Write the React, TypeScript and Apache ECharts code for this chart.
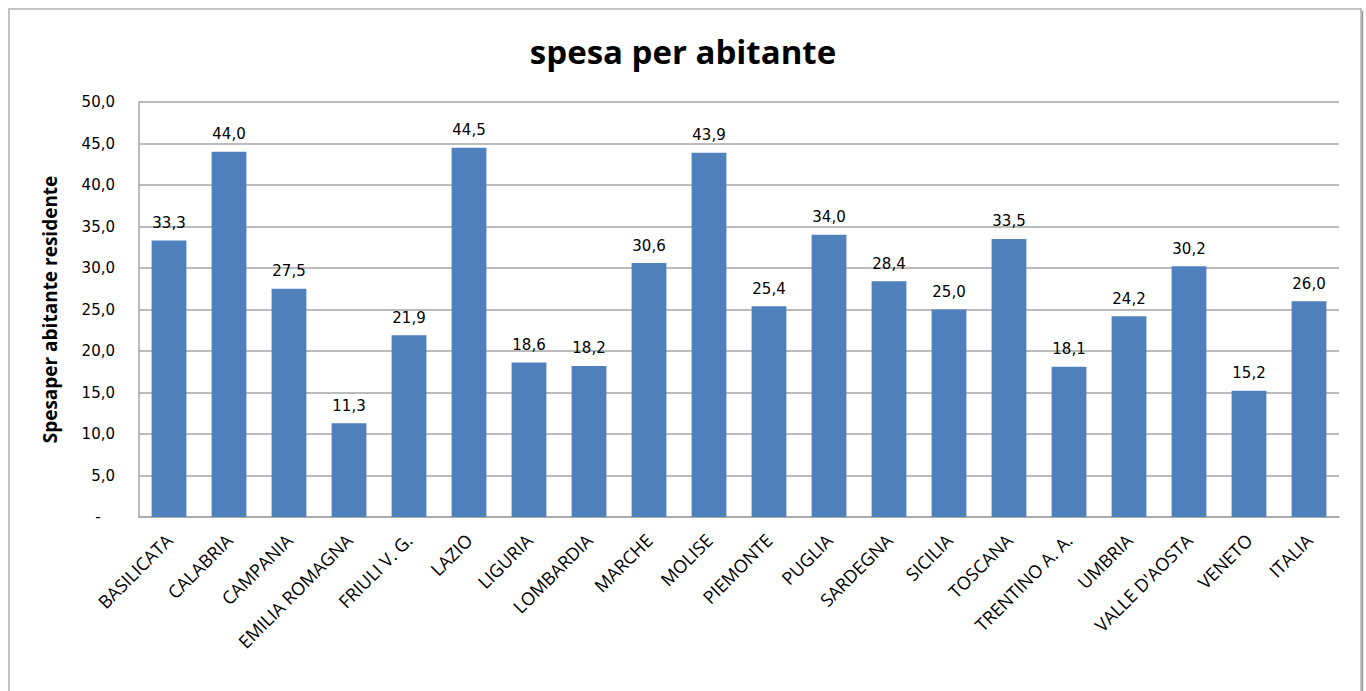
import React, { useEffect, useRef } from "react";
import * as echarts from "echarts";

const categories = [
  "BASILICATA", "CALABRIA", "CAMPANIA", "EMILIA ROMAGNA", "FRIULI V. G.", "LAZIO",
  "LIGURIA", "LOMBARDIA", "MARCHE", "MOLISE", "PIEMONTE", "PUGLIA", "SARDEGNA",
  "SICILIA", "TOSCANA", "TRENTINO A. A.", "UMBRIA", "VALLE D'AOSTA", "VENETO", "ITALIA",
];
const values = [
  33.3, 44.0, 27.5, 11.3, 21.9, 44.5, 18.6, 18.2, 30.6, 43.9,
  25.4, 34.0, 28.4, 25.0, 33.5, 18.1, 24.2, 30.2, 15.2, 26.0,
];
const titleText = "spesa per abitante";
const yAxisName = "Spesaper abitante residente";

const fmt = (v: number) => v.toFixed(1).replace(".", ",");

export default function App() {
  const ref = useRef<HTMLDivElement>(null);
  useEffect(() => {
    const chart = echarts.init(ref.current!, null, { renderer: "svg" });
    chart.setOption({
      animation: false,
      backgroundColor: "#ffffff",
      title: {
        text: titleText,
        left: "center",
        top: 30,
        textStyle: { fontFamily: "Open Sans", fontSize: 33, fontWeight: "bold", color: "#000" },
      },
      graphic: [
        {
          type: "rect",
          shape: { x: 9, y: 9, width: 1352, height: 700 },
          style: { fill: "none", stroke: "#b0b0b0", lineWidth: 1.5 },
          silent: true,
        },
        {
          type: "line",
          shape: { x1: 1362.5, y1: 11, x2: 1362.5, y2: 700 },
          style: { stroke: "#9a9a9a", lineWidth: 1.5 },
          silent: true,
        },
      ],
      grid: { left: 139, top: 102, right: 27, bottom: 174, containLabel: false },
      xAxis: {
        type: "category",
        data: categories,
        axisLine: { show: true, lineStyle: { color: "#a6a6a6", width: 1.5 } },
        axisTick: { show: false },
        axisLabel: {
          rotate: 45,
          interval: 0,
          margin: 20,
          fontFamily: "Open Sans",
          fontSize: 18,
          color: "#000",
        },
      },
      yAxis: {
        type: "value",
        min: 0,
        max: 50,
        interval: 5,
        name: yAxisName,
        nameLocation: "middle",
        nameGap: 80,
        nameTextStyle: { fontFamily: "Open Sans", fontSize: 19, fontWeight: "bold", color: "#000" },
        axisLine: { show: true, lineStyle: { color: "#a6a6a6", width: 1.5 } },
        axisTick: { show: false },
        splitLine: { show: true, lineStyle: { color: "#a6a6a6", width: 1.5 } },
        axisLabel: {
          margin: 24,
          fontFamily: "DejaVu Sans",
          fontSize: 15,
          color: "#000",
          formatter: (v: number) => (v === 0 ? "-   " : fmt(v)),
        },
      },
      series: [
        {
          type: "bar",
          data: values,
          barWidth: "58%",
          itemStyle: { color: "#4f81bd" },
          label: {
            show: true,
            position: "top",
            distance: 10,
            fontFamily: "DejaVu Sans",
            fontSize: 15,
            color: "#000",
            formatter: (p: any) => fmt(p.value),
          },
        },
      ],
    });
    return () => chart.dispose();
  }, []);
  return (
    <div
      ref={ref}
      style={{ position: "absolute", left: 0, top: 0, width: 1366, height: 691 }}
    />
  );
}
